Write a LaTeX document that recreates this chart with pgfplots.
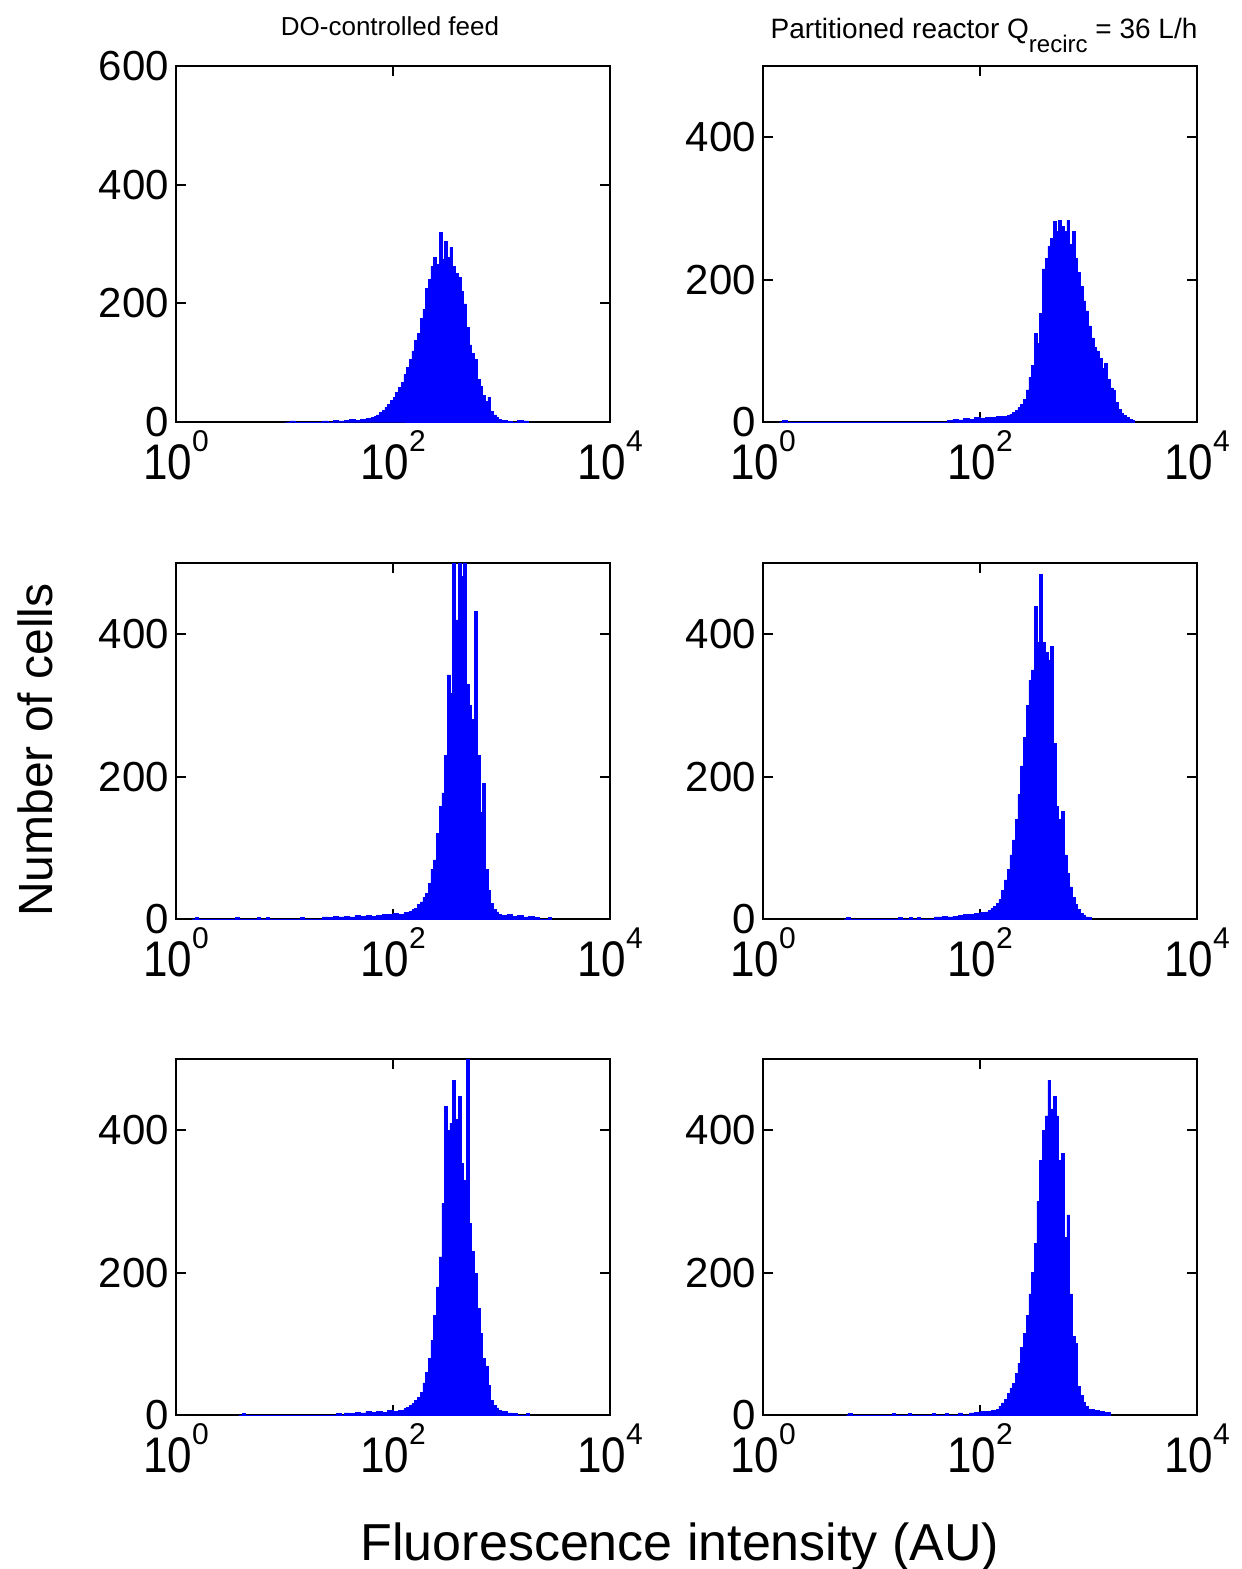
\documentclass[border=0pt]{standalone}
\usepackage{fontspec}
\setmainfont{Liberation Sans}
\usepackage{pgfplots}
\pgfplotsset{compat=1.18}
\newcommand{\xtl}[1]{\scalebox{0.88}[1]{\fontsize{25}{25}\selectfont 10}\raisebox{14pt}{\fontsize{15}{15}\selectfont #1}}
\pgfplotsset{
  hist/.style={
    scale only axis, width=217pt, height=178pt,
    xmin=0, xmax=4, ymin=0,
    xtick={0,2,4}, xticklabels={\xtl{0},\xtl{2},\xtl{4}},
    tick align=inside, major tick length=5pt,
    minor tick num=0,
    axis line style={line width=0.9pt},
    tick style={black, line width=0.9pt},
    yticklabel style={font=\fontsize{21}{21}\selectfont},
    xticklabel style={inner sep=0pt, yshift=-4pt},
    /pgf/number format/assume math mode=true,
    anchor=south west,
  },
  histplot/.style={const plot, fill=blue, draw=blue, line width=0.3pt},
}
\begin{document}
\begin{tikzpicture}
\path[use as bounding box] (0,0) rectangle (621pt,-784.5pt);

% Row 1 left
\begin{axis}[hist, at={(88pt,-211pt)}, ymax=600, ytick={0,200,400,600}]
\addplot[histplot] coordinates {(1.00,0)(1.05,2)(1.10,0)(1.35,2)(1.40,0)(1.45,3)(1.50,2)(1.55,3)(1.60,4)(1.65,3)(1.70,5)(1.75,6)
(1.800,8)(1.825,10)(1.850,12)(1.875,16)(1.900,20)(1.925,25)(1.950,30)(1.975,36)(2.000,42)(2.025,50)(2.050,58)(2.075,67)(2.100,80)(2.125,92)(2.150,105)(2.175,120)(2.200,137)(2.225,150)(2.250,174)(2.275,190)(2.300,225)(2.325,240)(2.350,262)(2.375,277)(2.400,265)(2.425,319)(2.450,275)(2.475,305)(2.500,278)(2.525,294)(2.550,262)(2.575,250)(2.600,244)(2.625,220)(2.650,199)(2.675,160)(2.700,130)(2.725,115)(2.750,106)(2.775,72)(2.800,60)(2.825,45)(2.850,35)(2.875,42)(2.900,18)(2.925,12)(2.950,8)(2.975,5)(3.000,3)(3.050,1)(3.100,0)(3.150,3)(3.200,2)(3.250,0)} \closedcycle;
\end{axis}

% Row 1 right
\begin{axis}[hist, at={(381.5pt,-211pt)}, ymax=500, ytick={0,200,400}]
\addplot[histplot] coordinates {(0.15,0)(0.18,2)(0.22,0)(1.70,2)(1.75,4)(1.80,3)(1.85,5)(1.90,4)(1.95,6)(2.00,5)(2.05,7)(2.10,6)(2.15,8)(2.20,8)(2.25,9)(2.275,11)(2.300,13)(2.325,16)(2.350,20)(2.375,25)(2.400,32)(2.425,45)(2.450,63)(2.475,80)(2.500,124)(2.525,110)(2.550,152)(2.575,215)(2.600,230)(2.625,247)(2.650,258)(2.675,282)(2.700,268)(2.725,283)(2.750,275)(2.775,268)(2.800,283)(2.825,250)(2.850,268)(2.875,230)(2.900,210)(2.925,190)(2.950,170)(2.975,156)(3.000,135)(3.025,118)(3.050,105)(3.075,100)(3.100,89)(3.125,75)(3.150,82)(3.175,60)(3.200,48)(3.225,44)(3.250,28)(3.275,18)(3.300,12)(3.325,9)(3.350,6)(3.375,4)(3.400,2)(3.425,0)} \closedcycle;
\end{axis}

% Row 2 left
\begin{axis}[hist, at={(88pt,-459.5pt)}, ymax=500, ytick={0,200,400}]
\addplot[histplot] coordinates {(0.15,0)(0.18,2)(0.21,0)(0.55,2)(0.58,0)(0.75,2)(0.78,0)(0.83,2)(0.86,0)(1.15,2)(1.18,0)(1.35,3)(1.40,2)(1.45,4)(1.50,3)(1.55,4)(1.60,3)(1.65,5)(1.70,4)(1.75,5)(1.80,4)(1.85,5)(1.90,7)(1.95,6)(2.00,8)(2.05,7)(2.10,9)(2.15,11)(2.175,13)(2.200,15)(2.225,20)(2.250,24)(2.275,30)(2.300,36)(2.325,50)(2.350,70)(2.375,83)(2.400,120)(2.425,158)(2.450,177)(2.475,230)(2.500,343)(2.525,317)(2.550,540)(2.575,420)(2.600,540)(2.625,481)(2.650,540)(2.675,330)(2.700,300)(2.725,280)(2.750,432)(2.775,230)(2.800,150)(2.825,191)(2.850,70)(2.875,40)(2.900,22)(2.925,14)(2.950,10)(2.975,7)(3.000,5)(3.050,6)(3.100,4)(3.150,5)(3.200,3)(3.250,4)(3.300,2)(3.350,0)(3.430,2)(3.460,0)} \closedcycle;
\end{axis}

% Row 2 right
\begin{axis}[hist, at={(381.5pt,-459.5pt)}, ymax=500, ytick={0,200,400}]
\addplot[histplot] coordinates {(0.75,0)(0.77,2)(0.80,0)(1.25,2)(1.28,0)(1.35,2)(1.38,0)(1.42,2)(1.45,0)(1.58,3)(1.65,4)(1.70,3)(1.75,4)(1.80,5)(1.85,6)(1.90,7)(1.95,8)(2.00,9)(2.05,10)(2.075,12)(2.100,15)(2.125,18)(2.150,22)(2.175,27)(2.200,40)(2.225,55)(2.250,70)(2.275,90)(2.300,111)(2.325,140)(2.350,175)(2.375,215)(2.400,255)(2.425,300)(2.450,335)(2.475,350)(2.500,439)(2.525,388)(2.550,484)(2.575,388)(2.600,375)(2.625,364)(2.650,383)(2.675,247)(2.700,158)(2.725,140)(2.750,151)(2.775,90)(2.800,64)(2.825,45)(2.850,30)(2.875,20)(2.900,13)(2.925,8)(2.950,5)(2.975,3)(3.000,2)(3.025,0)} \closedcycle;
\end{axis}

% Row 3 left
\begin{axis}[hist, at={(88pt,-707.5pt)}, ymax=500, ytick={0,200,400}]
\addplot[histplot] coordinates {(0.58,0)(0.61,2)(0.64,0)(1.45,0)(1.48,2)(1.52,0)(1.55,3)(1.60,2)(1.65,4)(1.70,3)(1.75,5)(1.80,4)(1.85,5)(1.90,4)(1.95,6)(2.00,5)(2.05,7)(2.075,7)(2.100,9)(2.125,11)(2.150,13)(2.175,16)(2.200,20)(2.225,25)(2.250,32)(2.275,45)(2.300,60)(2.325,80)(2.350,105)(2.375,140)(2.400,180)(2.425,222)(2.450,297)(2.475,433)(2.500,400)(2.525,410)(2.550,470)(2.575,415)(2.600,447)(2.625,353)(2.650,330)(2.675,499)(2.700,269)(2.725,230)(2.750,199)(2.775,150)(2.800,115)(2.825,80)(2.850,68)(2.875,42)(2.900,21)(2.925,14)(2.950,10)(2.975,7)(3.000,5)(3.050,3)(3.100,2)(3.150,0)(3.230,2)(3.260,0)} \closedcycle;
\end{axis}

% Row 3 right
\begin{axis}[hist, at={(381.5pt,-707.5pt)}, ymax=500, ytick={0,200,400}]
\addplot[histplot] coordinates {(0.77,0)(0.79,2)(0.82,0)(1.19,2)(1.22,0)(1.34,2)(1.37,0)(1.56,2)(1.59,0)(1.68,2)(1.71,0)(1.80,3)(1.84,0)(1.90,3)(1.95,4)(2.00,5)(2.05,5)(2.10,6)(2.125,7)(2.150,8)(2.175,12)(2.200,17)(2.225,22)(2.250,30)(2.275,38)(2.300,44)(2.325,58)(2.350,73)(2.375,95)(2.400,115)(2.425,140)(2.450,170)(2.475,200)(2.500,241)(2.525,300)(2.550,358)(2.575,400)(2.600,420)(2.625,470)(2.650,430)(2.675,447)(2.700,420)(2.725,358)(2.750,367)(2.775,250)(2.800,281)(2.825,170)(2.850,110)(2.875,101)(2.900,40)(2.925,28)(2.950,18)(2.975,12)(3.000,8)(3.050,6)(3.100,5)(3.150,4)(3.200,0)} \closedcycle;
\end{axis}

% Titles and labels
\node[anchor=base, font=\fontsize{13}{13}\selectfont] at (195pt,-17.5pt) {DO-controlled feed};
\node[anchor=base, font=\fontsize{14}{14}\selectfont] at (492pt,-19pt) {Partitioned reactor Q\raisebox{-7pt}{\fontsize{12}{12}\selectfont recirc} = 36 L/h};
\node[anchor=base, rotate=90, font=\fontsize{24}{24}\selectfont] at (26.5pt,-375pt) {Number of cells};
\node[anchor=base, font=\fontsize{26}{26}\selectfont] at (340pt,-780pt) {Fluorescence intensity (AU)};
\end{tikzpicture}
\end{document}
